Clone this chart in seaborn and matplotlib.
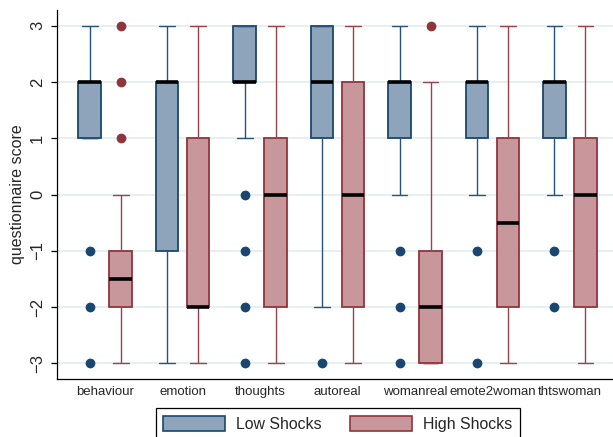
import numpy as np
import pandas as pd
import matplotlib
matplotlib.use("Agg")
import matplotlib.pyplot as plt
from matplotlib.patches import Patch
import matplotlib.colors as mcolors
import seaborn as sns

# Questionnaire items and the two experimental groups
items = ["behaviour", "emotion", "thoughts", "autoreal", "womanreal",
         "emote2woman", "thtswoman"]
groups = ["Low Shocks", "High Shocks"]
scores = [-3, -2, -1, 0, 1, 2, 3]

# Number of respondents giving each score (-3 .. 3), one row per item
low_counts = [
    [1, 1, 1, 0, 4, 10, 4],   # behaviour
    [2, 1, 3, 2, 2, 8, 3],    # emotion
    [1, 1, 1, 1, 1, 9, 7],    # thoughts
    [1, 1, 1, 1, 3, 6, 8],    # autoreal
    [1, 1, 1, 1, 3, 10, 4],   # womanreal
    [1, 0, 1, 2, 3, 10, 4],   # emote2woman
    [0, 1, 1, 2, 3, 10, 4],   # thtswoman
]
high_counts = [
    [2, 8, 6, 1, 1, 1, 1],    # behaviour
    [3, 8, 2, 1, 3, 1, 2],    # emotion
    [3, 4, 2, 4, 4, 1, 2],    # thoughts
    [3, 4, 2, 3, 2, 3, 3],    # autoreal
    [6, 6, 4, 1, 1, 1, 1],    # womanreal
    [3, 4, 3, 3, 4, 1, 2],    # emote2woman
    [2, 4, 3, 3, 4, 2, 2],    # thtswoman
]

fill_colors = {"Low Shocks": "#8da4ba", "High Shocks": "#c8979b"}
line_colors = {"Low Shocks": "#1a476f", "High Shocks": "#90353b"}
whisker_colors = {"Low Shocks": "#25537d", "High Shocks": "#9c4048"}

# Expand the count tables into one row per response
rows = []
for grp, table in zip(groups, [low_counts, high_counts]):
    for item, counts in zip(items, table):
        for s, c in zip(scores, counts):
            rows.extend([(item, grp, s)] * c)
df = pd.DataFrame(rows, columns=["item", "group", "score"])

sns.set_style("ticks")
plt.rcParams["font.family"] = ["Liberation Sans", "DejaVu Sans"]

fig = plt.figure(figsize=(6.13, 4.37), dpi=100)
ax = fig.add_axes([57 / 613, 1 - 379 / 437, 1 - 57 / 613, (379 - 10) / 437])

sns.boxplot(
    data=df, x="item", y="score", hue="group",
    order=items, hue_order=groups, palette=fill_colors,
    saturation=1, width=0.8, gap=0.275, whis=1.5, linewidth=1.1,
    medianprops=dict(color="black", linewidth=2.6, solid_capstyle="butt"),
    flierprops=dict(marker="o", markersize=6, linestyle="none"),
    legend=False, ax=ax,
)

def side(xm):
    return groups[0] if xm - round(xm) < 0 else groups[1]

# Colour box outlines, whiskers, caps and outliers by group
for p in ax.patches:
    verts = p.get_path().vertices
    xm = verts[:, 0].min() / 2 + verts[:, 0].max() / 2
    p.set_edgecolor(line_colors[side(xm)])
    p.set_linewidth(1.3)

for ln in ax.lines:
    xd = np.asarray(ln.get_xdata(), dtype=float)
    yd = np.asarray(ln.get_ydata(), dtype=float)
    if xd.size == 0:
        continue
    xm = xd.mean()
    grp = side(xm)
    if ln.get_marker() == "o":
        ln.set_markerfacecolor(line_colors[grp])
        ln.set_markeredgecolor(line_colors[grp])
        continue
    if mcolors.to_hex(ln.get_color()) == "#000000":
        continue
    ln.set_color(whisker_colors[grp])
    ln.set_linewidth(1.0)
    if xd.size == 2 and yd[0] == yd[1]:
        ln.set_xdata([xm - 0.103, xm + 0.103])

ax.set_xlim(-0.62, 6.555)
ax.set_ylim(-3.28, 3.28)
ax.set_yticks(scores)
ax.yaxis.grid(True, color="#e4ecee", linewidth=1.2)
ax.set_axisbelow(True)

ax.set_xlabel("")
ax.set_ylabel("questionnaire score", fontsize=11.5, labelpad=4)
ax.tick_params(axis="x", length=0, pad=5, labelsize=9.5)
ax.tick_params(axis="y", length=4.5, width=0.9, pad=4, labelsize=12,
               labelrotation=90, color="black")
for lbl in ax.get_yticklabels():
    lbl.set_va("center")

for s in ["top", "right"]:
    ax.spines[s].set_visible(False)
for s in ["left", "bottom"]:
    ax.spines[s].set_color("black")
    ax.spines[s].set_linewidth(0.9)

handles = [Patch(facecolor=fill_colors[g], edgecolor=line_colors[g],
                 linewidth=1.2, label=g) for g in groups]
leg = fig.legend(handles=handles, loc="upper center",
                 bbox_to_anchor=(338 / 613, 1 - 408 / 437), ncol=2,
                 frameon=True, fancybox=False, edgecolor="black",
                 framealpha=1, fontsize=11.4, handlelength=3.9,
                 handleheight=1.1, handletextpad=0.7, columnspacing=1.8,
                 borderpad=0.5, borderaxespad=0)
leg.get_frame().set_linewidth(0.9)

fig.savefig("out.png", dpi=100)
